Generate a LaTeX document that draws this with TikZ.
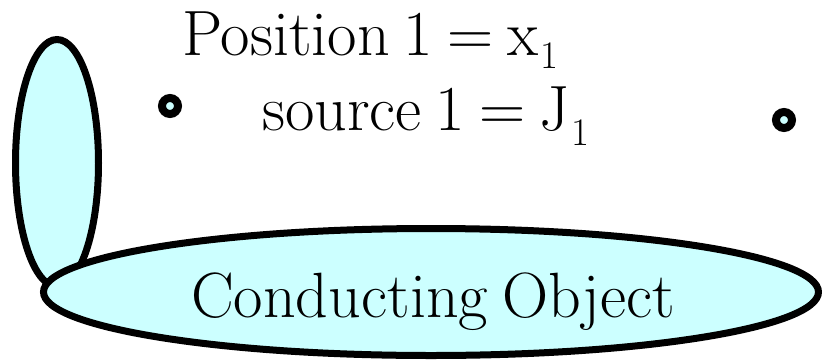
\documentclass[tikz,border=0pt]{standalone}
\usepackage{fontspec}
\usetikzlibrary{shapes.geometric}
\definecolor{lightcyan}{HTML}{CCFFFF}
\newcommand{\bigfont}{\fontsize{64}{72}\selectfont\spaceskip=14pt\relax}
\tikzset{
  body/.style={draw=black, fill=lightcyan, line width=7pt, ellipse, inner sep=0pt},
  pointmark/.style={circle, draw=black, fill=lightcyan, line width=8pt, minimum size=16pt, inner sep=0pt},
  bigtext/.style={font=\bigfont, inner sep=0pt},
}
\newcommand{\lowsub}[2]{\kern#1\raisebox{-#2}{\fontsize{39}{44}\selectfont 1}}
\begin{document}
\begin{tikzpicture}[x=1pt, y=-1pt]
  \useasboundingbox (0,0) rectangle (822,362);
  % small vertical object
  \node[body, minimum width=83pt, minimum height=247pt] (small) at (57,163) {};
  % large conducting object
  \node[body, minimum width=775pt, minimum height=127pt] (obj) at (431,292) {};
  \node[bigtext, anchor=base] (objlabel) at (433,317) {Conducting Object};
  % labels
  \node[bigtext, anchor=base west] (pos) at (182,55) {Position 1 = x\lowsub{2pt}{13pt}};
  \node[bigtext, anchor=base west] (src) at (262,130) {source 1 = J\lowsub{2pt}{15pt}};
  % points
  \node[pointmark] (p1) at (170,106) {};
  \node[pointmark] (p2) at (784,120) {};
\end{tikzpicture}
\end{document}
